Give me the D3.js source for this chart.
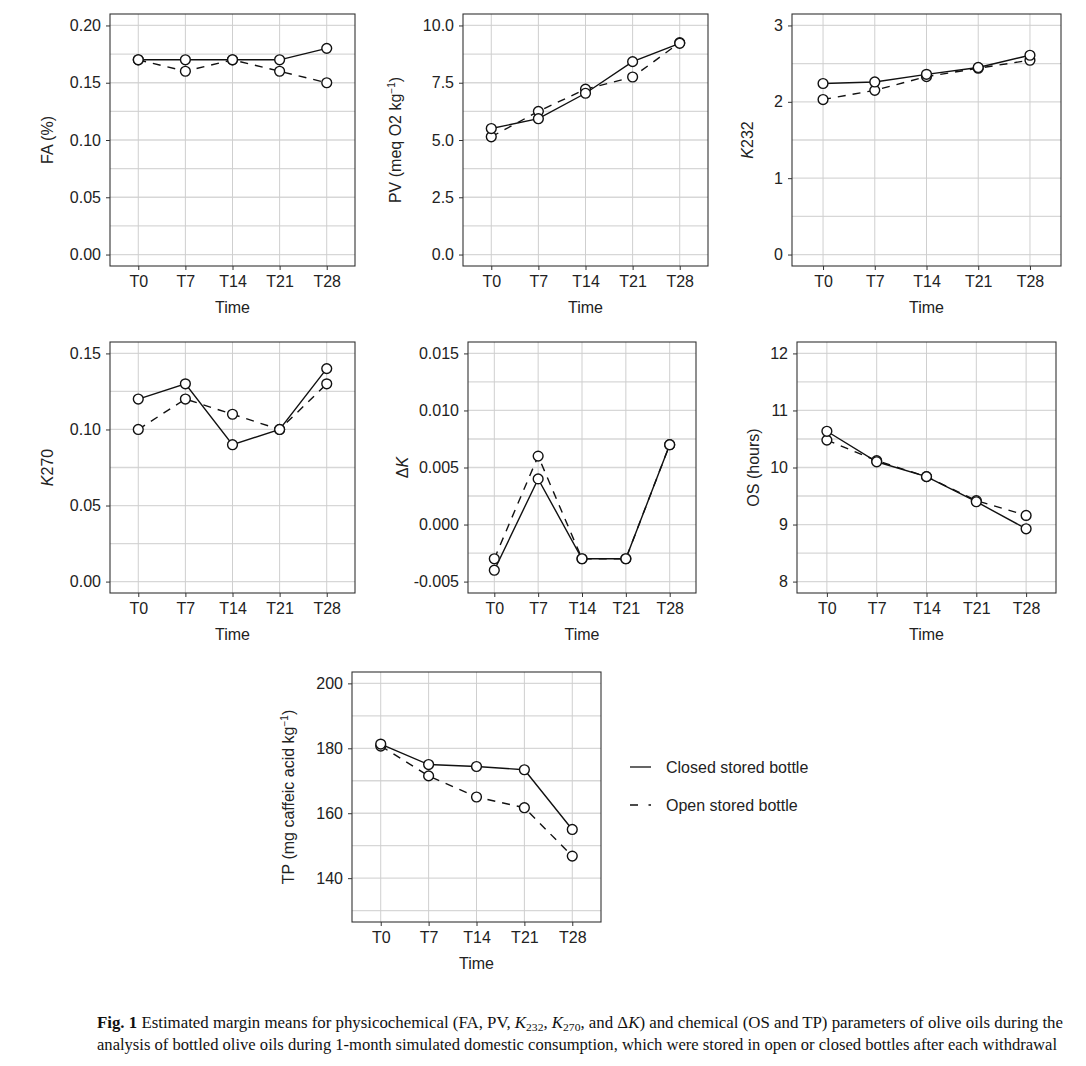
<!DOCTYPE html>
<html>
<head>
<meta charset="utf-8">
<script src="https://cdnjs.cloudflare.com/ajax/libs/d3/7.8.5/d3.min.js"></script>
<style>
body { margin:0; background:#fff; }
svg { display:block; }
.tick text { font-family: "Liberation Sans", Arial, sans-serif; font-size:16px; fill:#222; }
.ttl { font-family: "Liberation Sans", Arial, sans-serif; font-size:16px; fill:#222; }
.cap { font-family: "Liberation Serif", "Times New Roman", serif; font-size:16px; fill:#111; }
</style>
</head>
<body>
<div id="graphZone"></div>
<script>
/************************************ Data *******************************/
var times = ["T0", "T7", "T14", "T21", "T28"];

var faClosed = [0.17, 0.17, 0.17, 0.17, 0.18];
var faOpen   = [0.17, 0.16, 0.17, 0.16, 0.15];
var faTicks  = [0, 0.05, 0.10, 0.15, 0.20];

var pvClosed = [5.50, 5.93, 7.04, 8.42, 9.22];
var pvOpen   = [5.14, 6.25, 7.22, 7.75, 9.25];
var pvTicks  = [0, 2.5, 5, 7.5, 10];

var k232Closed = [2.24, 2.26, 2.36, 2.45, 2.61];
var k232Open   = [2.03, 2.15, 2.33, 2.44, 2.545];
var k232Ticks  = [0, 1, 2, 3];

var k270Closed = [0.12, 0.13, 0.09, 0.10, 0.14];
var k270Open   = [0.10, 0.12, 0.11, 0.10, 0.13];
var k270Ticks  = [0, 0.05, 0.10, 0.15];

var dkClosed = [-0.004, 0.004, -0.003, -0.003, 0.007];
var dkOpen   = [-0.003, 0.006, -0.003, -0.003, 0.007];
var dkTicks  = [-0.005, 0, 0.005, 0.010, 0.015];

var osClosed = [10.635, 10.10, 9.84, 9.40, 8.925];
var osOpen   = [10.48, 10.12, 9.84, 9.42, 9.16];
var osTicks  = [8, 9, 10, 11, 12];

var tpClosed = [181.3, 175.0, 174.4, 173.4, 155.0];
var tpOpen   = [180.7, 171.5, 165.0, 161.7, 146.8];
var tpTicks  = [140, 160, 180, 200];

var seriesNames = ["Closed stored bottle", "Open stored bottle"];

/************************************ Layout *******************************/
// box = [left, top, right, bottom], lim = axis limits before the 5% expansion
var panels = [
	{ box:[110, 14, 355, 266], lim:[0, 0.2],  ticks:faTicks,   fmt:".2f", closed:faClosed,   open:faOpen,   title:"FA", tx:63 },
	{ box:[463, 14, 708, 266], lim:[0, 10],   ticks:pvTicks,   fmt:".1f", closed:pvClosed,   open:pvOpen,   title:"PV", tx:68 },
	{ box:[792, 14, 1061, 266], lim:[0, 3],   ticks:k232Ticks, fmt:"d",   closed:k232Closed, open:k232Open, title:"K232", tx:45 },
	{ box:[110, 342, 355, 593], lim:[0, 0.15], ticks:k270Ticks, fmt:".2f", closed:k270Closed, open:k270Open, title:"K270", tx:63 },
	{ box:[468, 342, 696, 593], lim:[-0.005, 0.015], ticks:dkTicks, fmt:".3f", closed:dkClosed, open:dkOpen, title:"DK", tx:66 },
	{ box:[797, 342, 1056, 593], lim:[8, 12],  ticks:osTicks,   fmt:"d",   closed:osClosed,   open:osOpen,   title:"OS", tx:44 },
	{ box:[352, 672, 601, 922], lim:[130, 200], ticks:tpTicks,  fmt:"d",   closed:tpClosed,   open:tpOpen,   title:"TP", tx:64 }
];

// plain hyphen for negatives, like the original figure
var loc = d3.formatLocale({ decimal:".", thousands:",", grouping:[3], currency:["", ""], minus:"-" });

var svg = d3.select("#graphZone").append("svg")
	.attr("width", 1086).attr("height", 1066);

function minorTicks(ticks, dom) {
	var step = ticks[1] - ticks[0], out = [];
	for (var i = -1; i < ticks.length; i++) {
		var v = ticks[0] + step * i + step / 2;
		if (v > dom[0] && v < dom[1]) out.push(v);
	}
	return out;
}

// y axis titles, some need italic / superscript bits
function drawTitle(t, name) {
	if (name == "FA") t.text("FA (%)");
	if (name == "PV") {
		t.append("tspan").text("PV (meq O2 kg");
		t.append("tspan").attr("font-size", "10px").attr("dy", "-6").text("−1");
		t.append("tspan").attr("dy", "6").text(")");
	}
	if (name == "K232" || name == "K270") {
		t.append("tspan").attr("font-style", "italic").text("K");
		t.append("tspan").text(name.slice(1));
	}
	if (name == "DK") {
		t.append("tspan").text("Δ");
		t.append("tspan").attr("font-style", "italic").text("K");
	}
	if (name == "OS") t.text("OS (hours)");
	if (name == "TP") {
		t.append("tspan").text("TP (mg caffeic acid kg");
		t.append("tspan").attr("font-size", "10px").attr("dy", "-6").text("−1");
		t.append("tspan").attr("dy", "6").text(")");
	}
}

/************************************ Panels *******************************/
panels.forEach(function(p) {
	var L = p.box[0], T = p.box[1], R = p.box[2], B = p.box[3];
	var span = p.lim[1] - p.lim[0];
	var x = d3.scalePoint().domain(times).range([L, R]).padding(0.6);
	var y = d3.scaleLinear().domain([p.lim[0] - 0.05 * span, p.lim[1] + 0.05 * span]).range([B, T]);
	var g = svg.append("g");

	// grid
	var hLines = p.ticks.concat(minorTicks(p.ticks, y.domain()));
	g.selectAll(".hg").data(hLines).enter().append("line")
		.attr("x1", L).attr("x2", R)
		.attr("y1", function(d) { return y(d); }).attr("y2", function(d) { return y(d); })
		.attr("stroke", "#d7d7d7").attr("stroke-width", 1.3);
	g.selectAll(".vg").data(times).enter().append("line")
		.attr("y1", T).attr("y2", B)
		.attr("x1", function(d) { return x(d); }).attr("x2", function(d) { return x(d); })
		.attr("stroke", "#cfcfcf").attr("stroke-width", 1);

	// axes
	var fmt = loc.format(p.fmt);
	g.append("g").attr("transform", "translate(" + L + ",0)")
		.call(d3.axisLeft(y).tickValues(p.ticks).tickSize(4).tickPadding(5).tickFormat(fmt))
		.call(function(a) { a.select(".domain").remove(); a.selectAll("line").attr("stroke", "#333"); });
	g.append("g").attr("transform", "translate(0," + B + ")")
		.call(d3.axisBottom(x).tickSize(4).tickPadding(6))
		.call(function(a) { a.select(".domain").remove(); a.selectAll("line").attr("stroke", "#333"); });

	g.append("rect").attr("x", L).attr("y", T).attr("width", R - L).attr("height", B - T)
		.attr("fill", "none").attr("stroke", "#333").attr("stroke-width", 1.1);

	// lines
	var line = d3.line().x(function(d, i) { return x(times[i]); }).y(function(d) { return y(d); });
	g.append("path").datum(p.open).attr("d", line)
		.attr("fill", "none").attr("stroke", "#111").attr("stroke-width", 1.4).attr("stroke-dasharray", "8,7");
	g.append("path").datum(p.closed).attr("d", line)
		.attr("fill", "none").attr("stroke", "#111").attr("stroke-width", 1.4);

	// points
	[p.open, p.closed].forEach(function(s) {
		g.selectAll(null).data(s).enter().append("circle")
			.attr("cx", function(d, i) { return x(times[i]); })
			.attr("cy", function(d) { return y(d); })
			.attr("r", 4.9)
			.attr("fill", "#fff").attr("stroke", "#111").attr("stroke-width", 1.4);
	});

	// titles
	g.append("text").attr("class", "ttl").attr("text-anchor", "middle")
		.attr("x", (L + R) / 2).attr("y", B + 47).text("Time");
	var t = g.append("text").attr("class", "ttl").attr("text-anchor", "middle")
		.attr("transform", "translate(" + (L - p.tx + 6) + "," + ((T + B) / 2) + ") rotate(-90)");
	drawTitle(t, p.title);
});

/************************************ Legend *******************************/
var leg = svg.append("g");
leg.selectAll("line").data(seriesNames).enter().append("line")
	.attr("x1", 630).attr("x2", 651)
	.attr("y1", function(d, i) { return 767 + i * 38; }).attr("y2", function(d, i) { return 767 + i * 38; })
	.attr("stroke", "#111").attr("stroke-width", 1.3)
	.attr("stroke-dasharray", function(d, i) { return i ? "8,10.5" : null; });
leg.selectAll("text").data(seriesNames).enter().append("text").attr("class", "ttl")
	.attr("x", 666).attr("y", function(d, i) { return 767 + i * 38; })
	.attr("dominant-baseline", "central").text(function(d) { return d; });

/************************************ Caption *******************************/
var c1 = svg.append("text").attr("class", "cap").attr("x", 97).attr("y", 1028)
	.attr("textLength", 966).attr("lengthAdjust", "spacingAndGlyphs");
c1.append("tspan").attr("font-weight", "bold").text("Fig. 1");
c1.append("tspan").text("  Estimated margin means for physicochemical (FA, PV, ");
c1.append("tspan").attr("font-style", "italic").text("K");
c1.append("tspan").attr("font-size", "11px").attr("dy", 3).text("232");
c1.append("tspan").attr("dy", -3).text(", ");
c1.append("tspan").attr("font-style", "italic").text("K");
c1.append("tspan").attr("font-size", "11px").attr("dy", 3).text("270");
c1.append("tspan").attr("dy", -3).text(", and Δ");
c1.append("tspan").attr("font-style", "italic").text("K");
c1.append("tspan").text(") and chemical (OS and TP) parameters of olive oils during the");
svg.append("text").attr("class", "cap").attr("x", 97).attr("y", 1050)
	.attr("textLength", 960).attr("lengthAdjust", "spacingAndGlyphs")
	.text("analysis of bottled olive oils during 1-month simulated domestic consumption, which were stored in open or closed bottles after each withdrawal");
</script>
</body>
</html>
